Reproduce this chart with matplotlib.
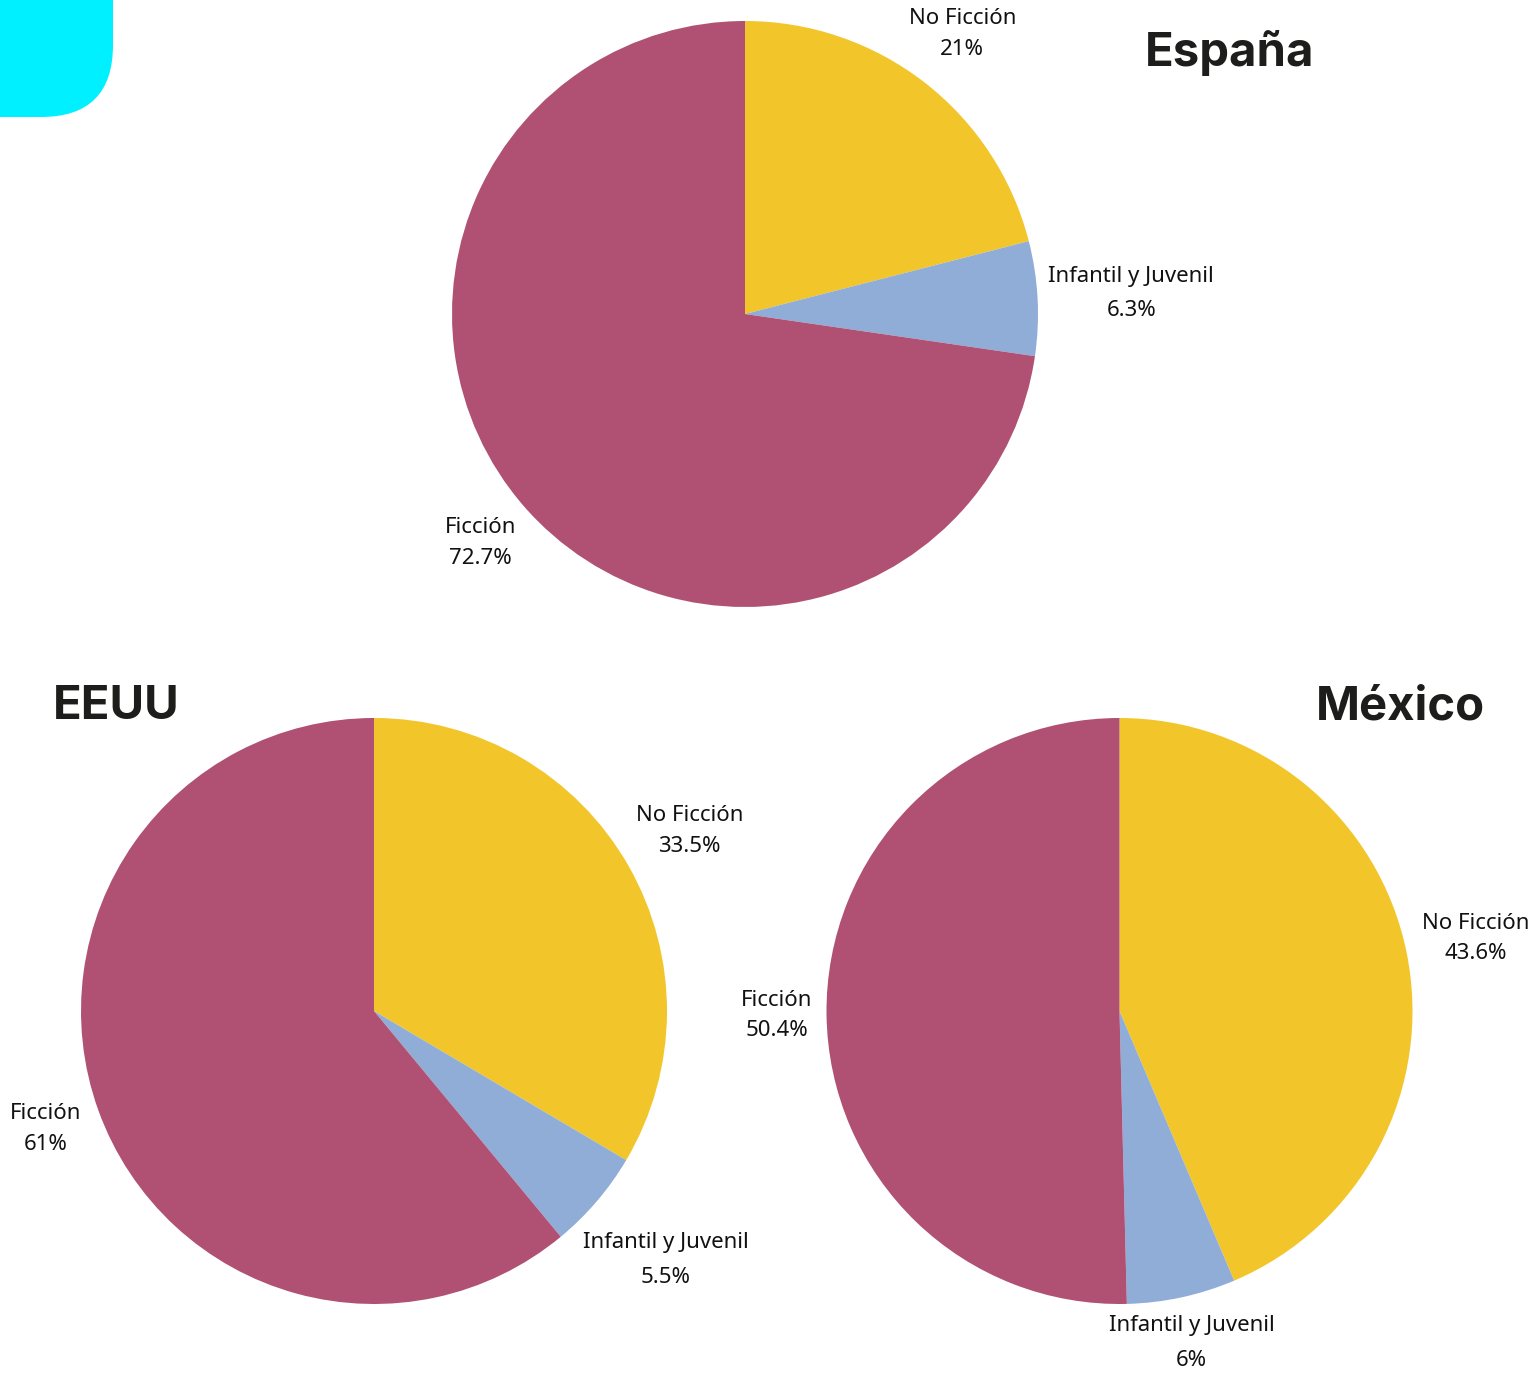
import numpy as np
import matplotlib
matplotlib.use("Agg")
import matplotlib.pyplot as plt
from matplotlib.patches import FancyBboxPatch

# data
categorias = ["No Ficción", "Infantil y Juvenil", "Ficción"]
espana = [21, 6.3, 72.7]
eeuu = [33.5, 5.5, 61]
mexico = [43.6, 6, 50.4]
etiquetas_pct = {
    "España": ["21%", "6.3%", "72.7%"],
    "EEUU": ["33.5%", "5.5%", "61%"],
    "México": ["43.6%", "6%", "50.4%"],
}

colores = ["#F2C62B", "#8FADD6", "#B05173"]

W, H = 1535, 1374
fig = plt.figure(figsize=(W / 100, H / 100), dpi=100)
ax = fig.add_axes([0, 0, 1, 1])
ax.set_xlim(0, W)
ax.set_ylim(0, H)
ax.set_aspect("equal")
ax.axis("off")

# cyan corner shape
ax.add_patch(FancyBboxPatch((-200, H - 117), 313, 400,
                            boxstyle="round,pad=0,rounding_size=72",
                            fc="#00F0FF", ec="none"))

label_font = "Noto Sans"
title_font = "Inter"


def draw_pie(values, pcts, center, dists):
    wedges, _ = ax.pie(values, colors=colores, startangle=90, counterclock=False,
                       center=center, radius=293, frame=True,
                       wedgeprops=dict(linewidth=0))
    for w, cat, pct, d in zip(wedges, categorias, pcts, dists):
        ang = np.deg2rad((w.theta1 + w.theta2) / 2)
        x = center[0] + d * 293 * np.cos(ang)
        y = center[1] + d * 293 * np.sin(ang)
        gap = 1.85 if cat.startswith("Infantil") else 1.6
        ax.text(x, y, cat + "\n" + pct, ha="center", va="center",
                fontsize=16, family=label_font, color="#111111",
                linespacing=gap)


draw_pie(espana, etiquetas_pct["España"], (745, H - 314), [1.21, 1.32, 1.195])
draw_pie(eeuu, etiquetas_pct["EEUU"], (374, H - 1011), [1.24, 1.31, 1.19])
draw_pie(mexico, etiquetas_pct["México"], (1119.5, H - 1011), [1.24, 1.16, 1.17])

ax.set_xlim(0, W)
ax.set_ylim(0, H)
ax.axis("off")

tkw = dict(fontsize=34, fontweight="bold", family=title_font, color="#1D1D1B",
           va="center")
ax.text(1314, H - 53, "España", ha="right", **tkw)
ax.text(53, H - 707, "EEUU", ha="left", **tkw)
ax.text(1485, H - 707, "México", ha="right", **tkw)

fig.savefig("out.png", dpi=100, facecolor="white")
